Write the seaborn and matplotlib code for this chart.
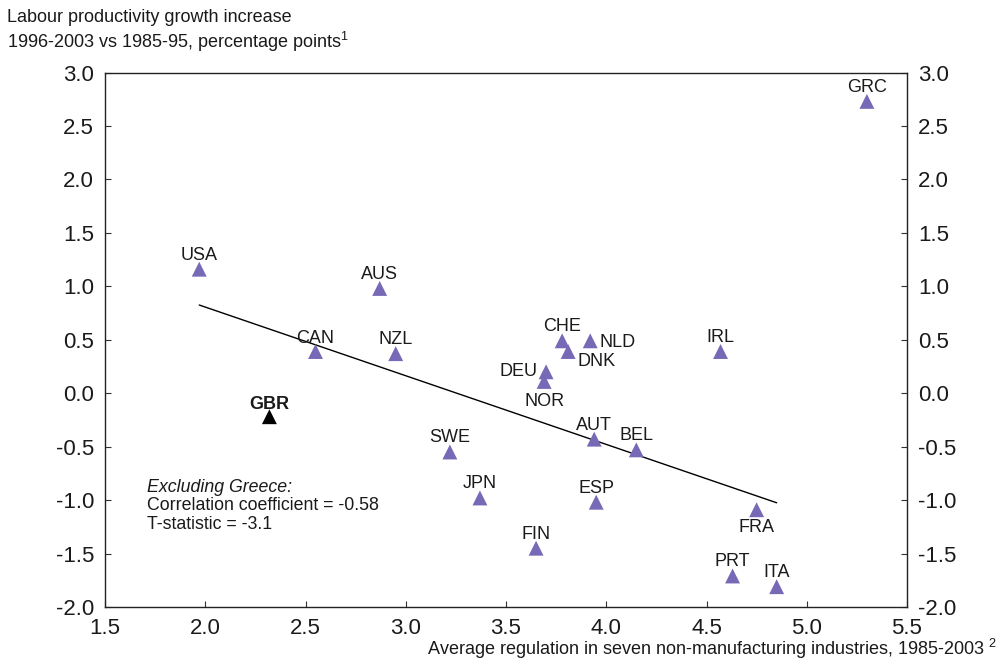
import matplotlib
matplotlib.use("Agg")
import matplotlib.pyplot as plt
import seaborn as sns
import pandas as pd

# Country codes, regulation index (x) and productivity growth change (y)
countries = ["USA", "AUS", "CAN", "NZL", "GBR", "SWE", "JPN", "FIN", "CHE", "NLD",
             "DNK", "DEU", "NOR", "AUT", "BEL", "ESP", "IRL", "FRA", "PRT", "ITA", "GRC"]
regulation = [1.97, 2.87, 2.55, 2.95, 2.32, 3.22, 3.37, 3.65, 3.78, 3.92,
              3.81, 3.70, 3.69, 3.94, 4.15, 3.95, 4.57, 4.75, 4.63, 4.85, 5.30]
productivity = [1.16, 0.98, 0.39, 0.37, -0.22, -0.55, -0.98, -1.45, 0.49, 0.49,
                0.39, 0.20, 0.11, -0.43, -0.53, -1.02, 0.39, -1.09, -1.71, -1.81, 2.73]

# Fitted trend line (excluding Greece)
trend_x = [1.97, 4.85]
trend_y = [0.825, -1.025]

x_ticks = [1.5, 2.0, 2.5, 3.0, 3.5, 4.0, 4.5, 5.0, 5.5]
y_ticks = [-2.0, -1.5, -1.0, -0.5, 0.0, 0.5, 1.0, 1.5, 2.0, 2.5, 3.0]

# Label offsets (points) and alignment per country
label_pos = {
    "USA": (0, 4, "center", "bottom"), "AUS": (0, 4, "center", "bottom"),
    "CAN": (0, 3, "center", "bottom"), "NZL": (0, 4, "center", "bottom"),
    "GBR": (0, 3, "center", "bottom"), "SWE": (0, 4, "center", "bottom"),
    "JPN": (0, 4, "center", "bottom"), "FIN": (0, 4, "center", "bottom"),
    "CHE": (0, 4, "center", "bottom"), "NLD": (7, -1, "left", "center"),
    "DNK": (7, -7, "left", "center"), "DEU": (-6, 0, "right", "center"),
    "NOR": (0, -8, "center", "top"), "AUT": (0, 4, "center", "bottom"),
    "BEL": (0, 4, "center", "bottom"), "ESP": (0, 4, "center", "bottom"),
    "IRL": (0, 4, "center", "bottom"), "FRA": (0, -7, "center", "top"),
    "PRT": (0, 4, "center", "bottom"), "ITA": (0, 4, "center", "bottom"),
    "GRC": (0, 4, "center", "bottom"),
}

sns.set_theme(style="white")
plt.rcParams["font.family"] = ["Liberation Sans", "DejaVu Sans"]
plt.rcParams["mathtext.fontset"] = "custom"
plt.rcParams["mathtext.rm"] = "Liberation Sans"
plt.rcParams["mathtext.it"] = "Liberation Sans:italic"

df = pd.DataFrame({"country": countries, "x": regulation, "y": productivity})
df["group"] = ["uk" if c == "GBR" else "other" for c in countries]

fig = plt.figure(figsize=(10, 6.61), dpi=100)
ax = fig.add_axes([0.105, 0.0817, 0.802, 0.8086])

ax.plot(trend_x, trend_y, color="black", lw=1.0, zorder=1)

sns.scatterplot(data=df, x="x", y="y", hue="group", marker="^", s=115,
                palette={"other": "#7769b6", "uk": "#000000"}, edgecolor="none",
                legend=False, ax=ax, zorder=3)

for c, xv, yv in zip(countries, regulation, productivity):
    dx, dy, ha, va = label_pos[c]
    ax.annotate(c, (xv, yv), xytext=(dx, dy), textcoords="offset points",
                ha=ha, va=va, fontsize=13, color="#1a1a1a",
                fontweight="bold" if c == "GBR" else "normal")

ax.set_xlim(1.5, 5.5)
ax.set_ylim(-2.0, 3.0)
ax.set_xticks(x_ticks)
ax.set_yticks(y_ticks)
ax.set_xticklabels([f"{t:.1f}" for t in x_ticks], fontsize=16)
ax.set_yticklabels([f"{t:.1f}" for t in y_ticks], fontsize=16)
ax.tick_params(axis="both", direction="in", length=4, width=0.8, color="#333333",
               labelcolor="#1a1a1a", left=True, right=True, bottom=True,
               labelright=True, pad=8)
ax.tick_params(axis="x", pad=8)
for s in ax.spines.values():
    s.set_visible(True)
    s.set_color("#222222")
    s.set_linewidth(1.0)
ax.set_xlabel("")
ax.set_ylabel("")
ax.grid(False)

fig.text(0.007, 0.973, "Labour productivity growth increase", fontsize=13,
         color="#1a1a1a", va="center", ha="left")
fig.text(0.007, 0.937, "1996-2003 vs 1985-95, percentage points$^{1}$", fontsize=13,
         color="#1a1a1a", va="center", ha="left")
fig.text(0.997, 0.018, "Average regulation in seven non-manufacturing industries, 1985-2003 $^{2}$",
         fontsize=13, color="#1a1a1a", va="center", ha="right")

ax.text(0.052, 0.223, "Excluding Greece:", transform=ax.transAxes, fontsize=12.8,
        style="italic", color="#1a1a1a", va="center")
ax.text(0.052, 0.189, "Correlation coefficient = -0.58", transform=ax.transAxes,
        fontsize=12.8, color="#1a1a1a", va="center")
ax.text(0.052, 0.155, "T-statistic = -3.1", transform=ax.transAxes, fontsize=12.8,
        color="#1a1a1a", va="center")

fig.savefig("out.png", dpi=100)
